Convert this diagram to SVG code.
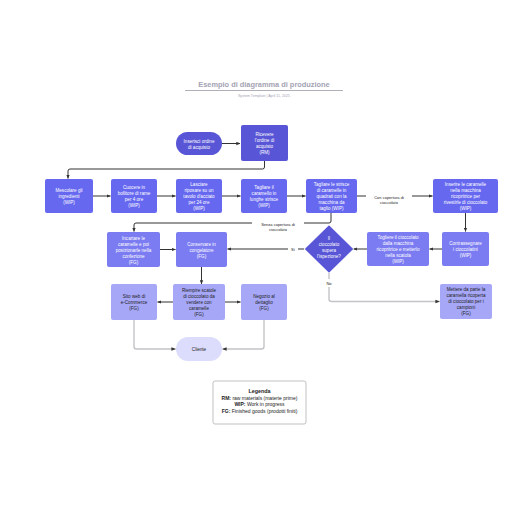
<svg xmlns="http://www.w3.org/2000/svg" width="516" height="516" viewBox="0 0 516 516">
<defs>
<marker id="ah" viewBox="0 0 6 6" refX="5.5" refY="3" markerWidth="4" markerHeight="4" orient="auto"><path d="M0,0.5 L6,3 L0,5.5 z" fill="#333"/></marker>
<marker id="ahg" viewBox="0 0 6 6" refX="5.5" refY="3" markerWidth="3.2" markerHeight="3.2" orient="auto"><path d="M0,0.5 L6,3 L0,5.5 z" fill="#333"/></marker>
<style>
text{font-family:"Liberation Sans",Arial,sans-serif;text-anchor:middle}
.t{font-size:4.6px;fill:#fff}
.d{font-size:4.6px;fill:#222}
.dk{fill:#5855d6}
.w1{fill:#6668f0}
.w2{fill:#7b7cf2}
.f3{fill:#a6a7f7}
.cl{fill:#dcdcfc}
.c{fill:none;stroke:#333;stroke-width:1;marker-end:url(#ah)}
.g{fill:none;stroke:#c4c4c8;stroke-width:1.4;marker-end:url(#ahg)}
.lbl{font-size:4px;fill:#222}
.lg{font-size:5px;fill:#222}
</style>
</defs>
<rect width="516" height="516" fill="#fff"/>
<g id="title">
<text x="264" y="87" style="font-size:7.4px;font-weight:bold;fill:#a3a3b3">Esempio di diagramma di produzione</text>
<line x1="185" y1="90.5" x2="343" y2="90.5" stroke="#9a9aa6" stroke-width="0.8"/>
<text x="264" y="96.5" style="font-size:3.6px;fill:#a3a3b3">System Template  |  April 11, 2025</text>
</g>
<g id="connectors">
<path class="c" d="M222,143.5 H240"/>
<path class="c" d="M264.5,161 V167 Q264.5,169 262.5,169 H70 Q68,169 68,171 V178.5"/>
<path class="c" d="M93,196 H110.5"/>
<path class="c" d="M157,196 H175.5"/>
<path class="c" d="M222,196 H240.5"/>
<path class="c" d="M287,196 H305.5"/>
<path class="c" d="M357,196 H366 M412,196 H432.5"/>
<path class="c" d="M465.5,213 V231.5"/>
<path class="c" d="M442,249 H429.5"/>
<path class="c" d="M367,249 H353.5"/>
<path class="c" d="M304,249 H298 M288,249 H227.5"/>
<path class="c" d="M331,213 V221 Q331,223 329,223 H304 M252,223 H136 Q134,223 134,225 V231.5"/>
<path class="c" d="M160,249.5 H175.5"/>
<path class="c" d="M201.5,267 V284"/>
<path class="c" d="M173,302 H157.5"/>
<path class="c" d="M225,302 H240.5"/>
<path class="g" d="M329,273 V279 M329,287 V299 Q329,301.5 331.5,301.5 H439.5"/>
<path class="g" d="M134,320 V346.5 Q134,349 136.5,349 H175.5"/>
<path class="g" d="M264,320 V346.5 Q264,349 261.5,349 H222.5"/>
<text class="lbl" x="389" y="198.5">Con copertura di</text>
<text class="lbl" x="389" y="203.5">cioccolato</text>
<text class="lbl" x="278" y="225.5">Senza copertura di</text>
<text class="lbl" x="278" y="230.5">cioccolato</text>
<text class="lbl" x="293" y="250.5">Sì</text>
<text class="lbl" x="329" y="284.5">No</text>
</g>
<g id="n-ordine"><rect class="dk" x="176" y="132" width="46" height="23" rx="11.5"/><text class="t" x="199" y="142.5">Inserisci ordine</text><text class="t" x="199" y="148.5">di acquisto</text></g>
<g id="n-ricevere"><rect class="dk" x="241" y="125" width="47" height="36" rx="2"/><text class="t" x="264.5" y="136">Ricevere</text><text class="t" x="264.5" y="142">l'ordine di</text><text class="t" x="264.5" y="148">acquisto</text><text class="t" x="264.5" y="154">(RM)</text></g>
<g id="n-mescolare"><rect class="w1" x="45" y="179" width="48" height="34" rx="2"/><text class="t" x="69" y="192">Mescolare gli</text><text class="t" x="69" y="198">ingredienti</text><text class="t" x="69" y="204">(WIP)</text></g>
<g id="n-cuocere"><rect class="w1" x="111" y="179" width="46" height="34" rx="2"/><text class="t" x="134" y="189">Cuocere in</text><text class="t" x="134" y="195">bollitore di rame</text><text class="t" x="134" y="201">per 4 ore</text><text class="t" x="134" y="207">(WIP)</text></g>
<g id="n-lasciare"><rect class="w1" x="176" y="179" width="46" height="34" rx="2"/><text class="t" x="199" y="186">Lasciare</text><text class="t" x="199" y="192">riposare su un</text><text class="t" x="199" y="198">tavolo d'acciaio</text><text class="t" x="199" y="204">per 24 ore</text><text class="t" x="199" y="210">(WIP)</text></g>
<g id="n-tagliare1"><rect class="w1" x="241" y="179" width="46" height="34" rx="2"/><text class="t" x="264" y="189">Tagliare il</text><text class="t" x="264" y="195">caramello in</text><text class="t" x="264" y="201">lunghe strisce</text><text class="t" x="264" y="207">(WIP)</text></g>
<g id="n-tagliare2"><rect class="w1" x="306" y="179" width="51" height="34" rx="2"/><text class="t" x="331.5" y="186">Tagliare le strisce</text><text class="t" x="331.5" y="192">di caramelle in</text><text class="t" x="331.5" y="198">quadrati con la</text><text class="t" x="331.5" y="204">macchina da</text><text class="t" x="331.5" y="210">taglio (WIP)</text></g>
<g id="n-inserire"><rect class="w1" x="433" y="179" width="65" height="34" rx="2"/><text class="t" x="465.5" y="186">Inserire le caramelle</text><text class="t" x="465.5" y="192">nella macchina</text><text class="t" x="465.5" y="198">ricopritrice per</text><text class="t" x="465.5" y="204">rivestirle di cioccolato</text><text class="t" x="465.5" y="210">(WIP)</text></g>
<g id="n-incartare"><rect class="w2" x="107" y="232" width="53" height="35" rx="2"/><text class="t" x="133.5" y="239.5">Incartare le</text><text class="t" x="133.5" y="245.5">caramelle e poi</text><text class="t" x="133.5" y="251.5">posizionarle nella</text><text class="t" x="133.5" y="257.5">confezione</text><text class="t" x="133.5" y="263.5">(FG)</text></g>
<g id="n-conservare"><rect class="w2" x="176" y="232" width="51" height="35" rx="2"/><text class="t" x="201.5" y="245.5">Conservare in</text><text class="t" x="201.5" y="251.5">congelatore</text><text class="t" x="201.5" y="257.5">(FG)</text></g>
<g id="n-ispezione"><path d="M329,225 L353.5,249 L329,273 L304.5,249 Z" fill="#5855d6" stroke="#fff" stroke-width="1"/><path d="M329,225.6 L352.8,249 L329,272.4 L305.2,249 Z" fill="none" stroke="#5855d6" stroke-width="0.6"/><text class="t" x="329" y="240">Il</text><text class="t" x="329" y="246">cioccolato</text><text class="t" x="329" y="252">supera</text><text class="t" x="329" y="258">l'ispezione?</text></g>
<g id="n-togliere"><rect class="w2" x="367" y="232" width="62" height="34" rx="2"/><text class="t" x="398" y="239">Togliere il cioccolato</text><text class="t" x="398" y="245">dalla macchina</text><text class="t" x="398" y="251">ricopritrice e metterlo</text><text class="t" x="398" y="257">nella scatola</text><text class="t" x="398" y="263">(WIP)</text></g>
<g id="n-contrassegnare"><rect class="w2" x="442" y="232" width="47" height="34" rx="2"/><text class="t" x="465.5" y="245">Contrassegnare</text><text class="t" x="465.5" y="251">i cioccolatini</text><text class="t" x="465.5" y="257">(WIP)</text></g>
<g id="n-sito"><rect class="f3" x="111" y="284" width="46" height="36" rx="2"/><text class="d" x="134" y="298">Sito web di</text><text class="d" x="134" y="304">e-Commerce</text><text class="d" x="134" y="310">(FG)</text></g>
<g id="n-riempire"><rect class="f3" x="173" y="284" width="52" height="36" rx="2"/><text class="d" x="199" y="292">Riempire scatole</text><text class="d" x="199" y="298">di cioccolato da</text><text class="d" x="199" y="304">vendere con</text><text class="d" x="199" y="310">caramelle</text><text class="d" x="199" y="316">(FG)</text></g>
<g id="n-negozio"><rect class="f3" x="241" y="284" width="46" height="36" rx="2"/><text class="d" x="264" y="298">Negozio al</text><text class="d" x="264" y="304">dettaglio</text><text class="d" x="264" y="310">(FG)</text></g>
<g id="n-mettere"><rect class="f3" x="440" y="284" width="52" height="35" rx="2"/><text class="d" x="466" y="291">Mettere da parte la</text><text class="d" x="466" y="297">caramella ricoperta</text><text class="d" x="466" y="303">di cioccolato per i</text><text class="d" x="466" y="309">campioni</text><text class="d" x="466" y="315">(FG)</text></g>
<g id="n-cliente"><rect class="cl" x="176" y="337" width="46" height="24" rx="12"/><text class="d" x="199" y="350.5">Cliente</text></g>
<g id="legend">
<rect x="213" y="381" width="93" height="43" rx="2" fill="#fff" stroke="#999" stroke-width="0.6"/>
<text x="259.5" y="392.5" style="font-size:5.4px;font-weight:bold;fill:#222">Legenda</text>
<text class="lg" x="259.5" y="399.5"><tspan font-weight="bold">RM:</tspan> raw materials (materie prime)</text>
<text class="lg" x="259.5" y="406"><tspan font-weight="bold">WIP:</tspan> Work in progress</text>
<text class="lg" x="259.5" y="412.5"><tspan font-weight="bold">FG:</tspan> Finished goods (prodotti finiti)</text>
</g>
</svg>
